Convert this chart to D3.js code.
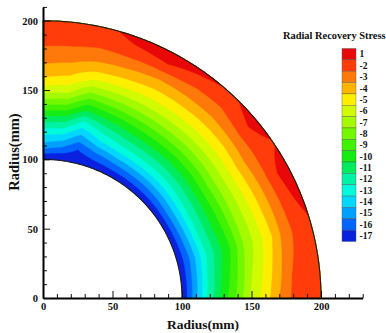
<!DOCTYPE html>
<html><head><meta charset="utf-8">
<script src="https://cdn.jsdelivr.net/npm/d3@7"></script>
<style>
body{margin:0;background:#fff}
svg{display:block}
text{font-family:"Liberation Serif","Times New Roman",serif;font-weight:bold;fill:#111}
</style>
</head><body>
<svg id="c" width="386" height="333"></svg>
<script>
// ---- data ----
const thetaNodes = [0, 8, 15, 22, 28, 34, 40, 47, 54, 62, 70, 77, 83, 90];      // degrees
const radiusNodes = [100, 110, 120, 130, 140, 150, 160, 170, 180, 190, 200];  // mm
// radial recovery stress at each (theta, radius) node
const stress = [
  [-17.5, -14.8, -12.0, -10.0, -8.3, -6.3, -5.0, -3.5, -2.3, -2.0, -1.8],
  [-17.5, -15.0, -12.4, -10.5, -8.8, -6.8, -5.5, -4.0, -2.6, -2.0, -1.8],
  [-17.5, -15.3, -12.8, -11.0, -9.4, -7.4, -6.0, -4.6, -3.0, -2.1, -1.7],
  [-17.5, -15.1, -12.6, -10.8, -9.2, -7.3, -5.9, -4.4, -3.0, -1.8, -1.1],
  [-17.5, -15.0, -12.6, -10.8, -9.1, -7.3, -5.8, -4.3, -2.9, -1.6, -0.7],
  [-17.5, -15.0, -12.7, -10.9, -9.1, -7.3, -5.8, -4.2, -2.8, -2.0, -1.6],
  [-17.5, -15.2, -12.9, -11.1, -9.3, -7.5, -5.9, -4.5, -3.0, -1.7, -0.9],
  [-17.5, -15.3, -13.0, -11.2, -9.4, -7.6, -6.0, -4.6, -3.3, -2.3, -1.7],
  [-17.5, -15.3, -13.0, -11.2, -9.4, -7.6, -6.0, -4.6, -3.3, -2.2, -1.2],
  [-17.5, -15.4, -13.1, -11.3, -9.5, -7.7, -6.0, -4.6, -3.3, -1.6, -0.7],
  [-17.5, -15.8, -13.6, -11.8, -9.8, -7.8, -5.9, -4.3, -3.0, -1.8, -1.1],
  [-17.5, -16.5, -14.7, -12.7, -10.2, -8.0, -5.8, -4.1, -2.9, -2.1, -1.8],
  [-17.7, -15.4, -13.3, -11.0, -8.6, -6.3, -4.7, -3.6, -2.7, -2.0, -1.8],
  [-17.6, -14.9, -13.0, -10.8, -8.3, -6.0, -4.4, -3.4, -2.6, -2.0, -1.8]
];
const legendLabels = ["1","-2","-3","-4","-5","-6","-7","-8","-9","-10","-11","-12","-13","-14","-15","-16","-17"];
const levelValues = [-1,-2,-3,-4,-5,-6,-7,-8,-9,-10,-11,-12,-13,-14,-15,-16,-17];
const bandColors = ["#e80808","#ff3c0a","#ff780a","#ffb400","#ffee00","#d2fa00","#a5fa00","#74f800",
  "#42f200","#14ec14","#00ec5e","#00f2a4","#00fadc","#00d8ff","#00a0ff","#0064ff","#0a22e0"];
const majorTicks = [0, 50, 100, 150, 200];
const legendTitle = "Radial Recovery Stress";
const axisTitle = "Radius(mm)";

// ---- scales ----
const svg = d3.select("#c");
const x = d3.scaleLinear().domain([0, 230]).range([43, 362.7]);
const y = d3.scaleLinear().domain([0, 210]).range([298, 6.9]);

// field sampled on a fine polar grid (display only, bilinear between data nodes)
const nT = 181, nR = 101;
const tIdx = d3.scaleLinear().domain(thetaNodes).range(d3.range(thetaNodes.length));
const rIdx = d3.scaleLinear().domain(radiusNodes).range(d3.range(radiusNodes.length));
const vals = new Float64Array(nT * nR);
for (let j = 0; j < nR; j++) {
  const r = 100 + j * 100 / (nR - 1);
  const fr = rIdx(r), r0 = Math.min(Math.floor(fr), radiusNodes.length - 2), wr = fr - r0;
  for (let i = 0; i < nT; i++) {
    const th = i * 90 / (nT - 1);
    const ft = tIdx(th), t0 = Math.min(Math.floor(ft), thetaNodes.length - 2), wt = ft - t0;
    const a = stress[t0][r0] * (1 - wr) + stress[t0][r0 + 1] * wr;
    const b = stress[t0 + 1][r0] * (1 - wr) + stress[t0 + 1][r0 + 1] * wr;
    vals[j * nT + i] = a * (1 - wt) + b * wt;
  }
}
// thresholds between levels, drawn from the lowest band upward
const thresholds = [-100].concat(levelValues.slice(0, 16).reverse().map(v => v - 0.5));
const fills = bandColors.slice().reverse();
const contours = d3.contours().size([nT, nR]).thresholds(thresholds)(vals);

const toXY = (u, v) => {
  const th = Math.max(0, Math.min(90, (u - 0.5) * 90 / (nT - 1))) * Math.PI / 180;
  const r = Math.max(100, Math.min(200, 100 + (v - 0.5) * 100 / (nR - 1)));
  return [x(r * Math.cos(th)), y(r * Math.sin(th))];
};
const proj = d3.geoTransform({ point(u, v) { const p = toXY(u, v); this.stream.point(p[0], p[1]); } });
const path = d3.geoPath(proj);

svg.append("g").selectAll("path").data(contours).join("path")
  .attr("d", path)
  .attr("fill", (d, i) => fills[i])
  .attr("stroke", (d, i) => fills[i]).attr("stroke-width", 0.3);

// boundary arcs
const arcLine = rr => d3.line()(d3.range(0, 90.01, 0.5).map(t => [x(rr * Math.cos(t * Math.PI / 180)), y(rr * Math.sin(t * Math.PI / 180))]));
[100, 200].forEach(rr => svg.append("path").attr("d", arcLine(rr)).attr("fill", "none").attr("stroke", "#1a1a1a").attr("stroke-width", 1.1));

// ---- axes ----
const minorTicksX = d3.range(0, 231, 10).filter(v => v % 50);
const minorTicksY = d3.range(0, 211, 10).filter(v => v % 50);
const gx = svg.append("g").attr("transform", `translate(0,${y(0)})`);
gx.append("g").call(d3.axisBottom(x).tickValues(minorTicksX).tickSize(-4).tickFormat("").tickSizeOuter(0))
  .call(g => g.select(".domain").remove());
gx.append("g").call(d3.axisBottom(x).tickValues(majorTicks).tickSize(-7).tickPadding(5).tickSizeOuter(0))
  .call(g => g.select(".domain").attr("stroke-width", 2));
const gy = svg.append("g").attr("transform", `translate(${x(0)},0)`);
gy.append("g").call(d3.axisLeft(y).tickValues(minorTicksY).tickSize(-4).tickFormat("").tickSizeOuter(0))
  .call(g => g.select(".domain").remove());
gy.append("g").call(d3.axisLeft(y).tickValues(majorTicks).tickSize(-7).tickPadding(5).tickSizeOuter(0))
  .call(g => g.select(".domain").attr("stroke-width", 2));
svg.selectAll(".tick line").attr("stroke", "#111");
svg.selectAll(".tick text").style("font-family", '"Liberation Serif",serif').style("font-weight", "bold").style("font-size", "10.5px").attr("fill", "#111");

svg.append("text").attr("x", 203).attr("y", 329).attr("text-anchor", "middle").style("font-size", "13.5px").text(axisTitle);
svg.append("text").attr("transform", "translate(19,152) rotate(-90)").attr("text-anchor", "middle").style("font-size", "14.5px").text(axisTitle);

// ---- legend ----
const lg = svg.append("g");
const ly = d3.scaleBand().domain(legendLabels).range([48.5, 241.5]);
lg.append("text").attr("x", 283).attr("y", 39).style("font-size", "10.4px").text(legendTitle);
lg.selectAll("rect").data(legendLabels).join("rect")
  .attr("x", 342).attr("y", d => ly(d)).attr("width", 14).attr("height", ly.bandwidth())
  .attr("fill", (d, i) => bandColors[i]).attr("stroke", "#555").attr("stroke-width", 0.4);
lg.selectAll("text.l").data(legendLabels).join("text").attr("class", "l")
  .attr("x", 359.5).attr("y", d => ly(d) + ly.bandwidth() / 2 + 3.3)
  .style("font-size", "9.5px").text(d => d);
</script>
</body></html>
